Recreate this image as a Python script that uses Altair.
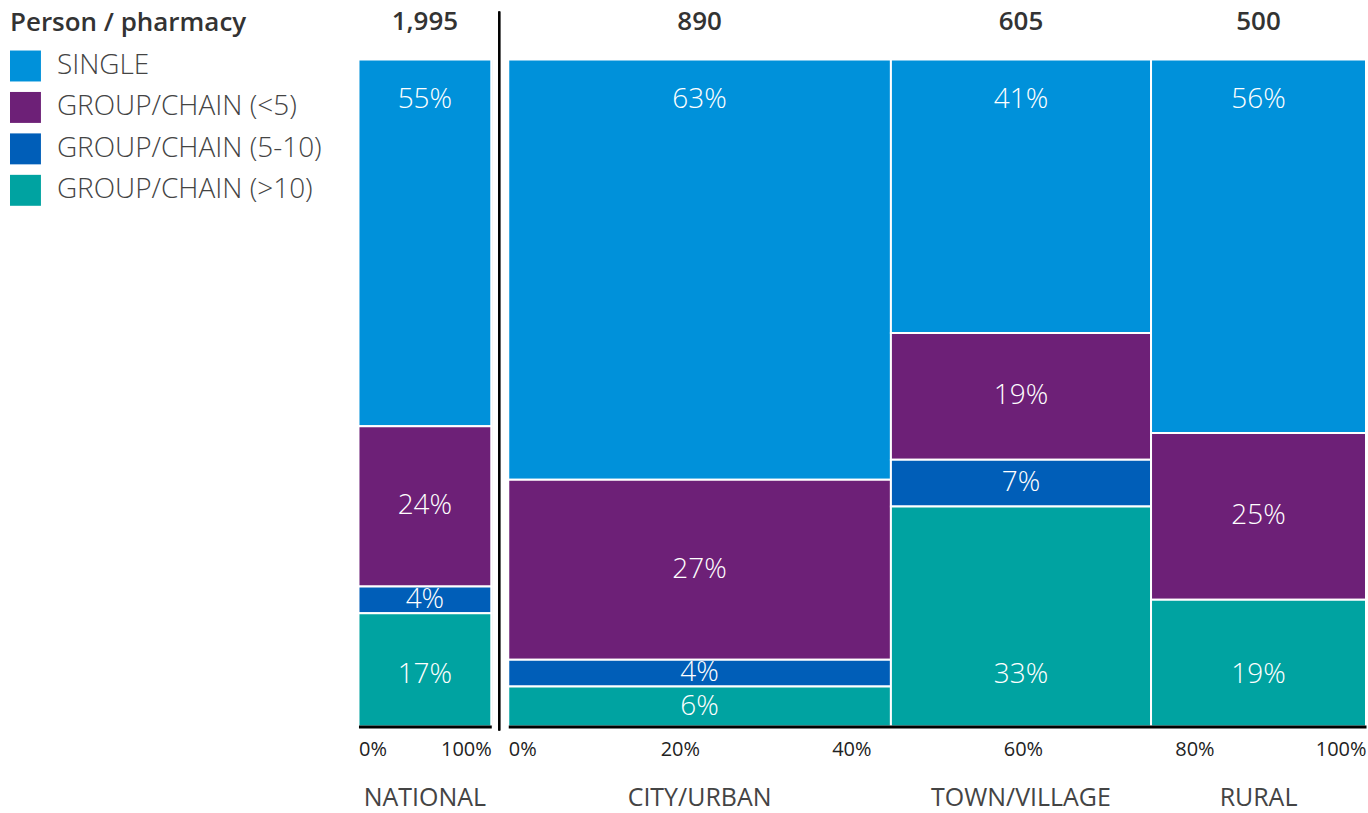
import altair as alt
import pandas as pd

FONT = "Open Sans"

# Pharmacy ownership types, stacked top to bottom
types = ["SINGLE", "GROUP/CHAIN (<5)", "GROUP/CHAIN (5-10)", "GROUP/CHAIN (>10)"]
type_colors = ["#0091DA", "#6D2077", "#005EB8", "#00A3A1"]

# National total
national_name = "NATIONAL"
national_count = 1995
national_share = [55, 24, 4, 17]

# Breakdown by settlement type (column widths follow respondent counts)
regions = ["CITY/URBAN", "TOWN/VILLAGE", "RURAL"]
region_counts = [890, 605, 500]
city_share = [63, 27, 4, 6]
town_share = [41, 19, 7, 33]
rural_share = [56, 25, 0, 19]
region_shares = [city_share, town_share, rural_share]

national_ticks = [0, 1]
mekko_ticks = [0, 0.2, 0.4, 0.6, 0.8, 1.0]


def segments(column, x0, x1, shares):
    rows = []
    last = len(types) - 1
    for i, (t, s) in enumerate(zip(types, shares)):
        if s == 0:
            continue
        y0 = sum(shares[i + 1:])
        y1 = y0 + s
        mid = (y0 + y1) / 2
        if i == 0:
            ly = y1 - 6.1          # top segment: label near its top
        elif i == last:
            ly = min(mid, 7.7)     # bottom segment: label near the baseline
        else:
            ly = mid
        rows.append(dict(column=column, type=t, x0=x0, x1=x1, xm=(x0 + x1) / 2,
                         y0=y0, y1=y1, ly=ly, label=f"{s}%"))
    return rows


nat_seg = pd.DataFrame(segments(national_name, 0.0, 1.0, national_share))
nat_head = pd.DataFrame([dict(column=national_name, xm=0.5, n=f"{national_count:,}")])

total = sum(region_counts)
mek_rows, head_rows = [], []
acc = 0
for name, cnt, shares in zip(regions, region_counts, region_shares):
    x0 = acc / total
    acc += cnt
    x1 = acc / total
    mek_rows += segments(name, x0, x1, shares)
    head_rows.append(dict(column=name, xm=(x0 + x1) / 2, n=f"{cnt:,}"))
mek_seg = pd.DataFrame(mek_rows)
mek_head = pd.DataFrame(head_rows)

color_scale = alt.Scale(domain=types, range=type_colors)
y_scale = alt.Scale(domain=[0, 100], nice=False)


def panel(seg, head, ticks, width, extra=None):
    x_enc = alt.X(
        "x0:Q",
        scale=alt.Scale(domain=[0, 1], nice=False, zero=False),
        axis=alt.Axis(values=ticks, format="%", labelFlush=True, ticks=False,
                      grid=False, domainColor="black", domainWidth=3,
                      labelFont=FONT, labelFontSize=20, labelFontWeight=400,
                      labelColor="#222", labelPadding=13, zindex=1),
        title=None,
    )
    rects = alt.Chart(seg).mark_rect(stroke="white", strokeWidth=2).encode(
        x=x_enc,
        x2="x1:Q",
        y=alt.Y("y0:Q", scale=y_scale, axis=None),
        y2="y1:Q",
        color=alt.Color(
            "type:N", scale=color_scale, sort=types,
            legend=alt.Legend(
                title="Person / pharmacy", orient="none", legendX=-349, legendY=-50,
                titleFont=FONT, titleFontSize=26, titleFontWeight=600,
                titleColor="#333", titlePadding=15, titleLimit=500, padding=0,
                symbolType="square", symbolSize=961, symbolStrokeWidth=0,
                symbolOpacity=1, labelFont=FONT, labelFontSize=28,
                labelFontWeight=300, labelColor="#444", labelOffset=16,
                rowPadding=10.5, labelLimit=400,
            ),
        ),
    )
    labels = alt.Chart(seg).mark_text(
        color="white", font=FONT, fontSize=28, fontWeight=300, baseline="middle"
    ).encode(x="xm:Q", y=alt.Y("ly:Q", scale=y_scale), text="label:N")
    heads = alt.Chart(head).mark_text(
        color="#333", font=FONT, fontSize=26, fontWeight=600, baseline="middle"
    ).encode(x="xm:Q", y=alt.value(-38), text="n:N")
    names = alt.Chart(head).mark_text(
        color="#444", font=FONT, fontSize=25, baseline="middle"
    ).encode(x="xm:Q", y=alt.value(740), text="column:N")
    layers = [rects, labels, heads, names]
    if extra is not None:
        layers.append(extra)
    return alt.layer(*layers).properties(width=width, height=668)


# Vertical divider between the national column and the regional breakdown
divider = alt.Chart(mek_head).mark_rule(color="black", strokeWidth=2).encode(
    x=alt.value(-9), y=alt.value(-48), y2=alt.value(672)
)

national = panel(nat_seg, nat_head, national_ticks, 133)
mekko = panel(mek_seg, mek_head, mekko_ticks, 859, extra=divider)

chart = alt.hconcat(national, mekko, spacing=17, bounds="flush").properties(
    padding={"left": 10, "top": 7, "right": 0, "bottom": 0}
).configure_view(stroke=None).configure(background="white")

chart.save("out.html", embed_options={"renderer": "svg", "actions": False})
